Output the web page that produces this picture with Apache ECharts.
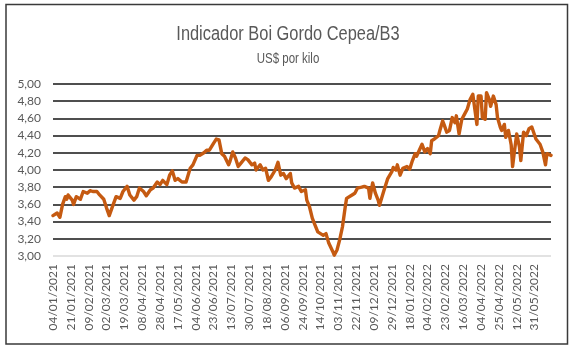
<!DOCTYPE html>
<html>
<head>
<meta charset="utf-8">
<title>Indicador Boi Gordo Cepea/B3</title>
<script src="https://cdn.jsdelivr.net/npm/echarts@6/dist/echarts.min.js"></script>
<style>
    html, body { margin: 0; padding: 0; background: #fff; }
    #chart { width: 575px; height: 348px; }
</style>
</head>
<body>
<div id="chart"></div>
<script>
'use strict';

// x tick labels, one every 13 trading days
var tickLabels = [
    '04/01/2021', '21/01/2021', '09/02/2021', '02/03/2021', '19/03/2021', '08/04/2021', '28/04/2021',
    '17/05/2021', '04/06/2021', '23/06/2021', '13/07/2021', '30/07/2021', '18/08/2021', '06/09/2021',
    '24/09/2021', '14/10/2021', '03/11/2021', '22/11/2021', '09/12/2021', '29/12/2021', '18/01/2022',
    '04/02/2022', '23/02/2022', '16/03/2022', '04/04/2022', '25/04/2022', '12/05/2022', '31/05/2022'
];
var tickStep = 13;
var lastDay = 363;

// trading day index (0 = 04/01/2021) of each sampled point
var dayIndex = [
    0, 3, 5, 7, 9, 10, 11, 14, 15, 17, 20, 22, 25, 27, 29, 32, 34, 37, 39, 41, 43, 44, 46, 49,
    51, 54, 56, 59, 61, 63, 66, 68, 71, 73, 76, 78, 80, 83, 85, 87, 89, 91, 94, 97, 100, 102,
    105, 107, 110, 112,
    114, 117, 119, 121, 123, 125, 128, 129, 131, 133, 135, 137, 140, 142, 145, 147, 148, 151,
    153, 155, 157, 159, 162, 164, 166, 168, 170, 173, 174, 176, 179, 181, 184, 185, 187, 189,
    191, 193, 195, 197, 199, 201, 202, 204, 205, 207, 209, 211, 213, 214, 218, 220, 222, 225,
    227, 230, 231, 233, 235, 237, 238, 241,
    244, 247, 248, 250, 251, 253, 255, 258, 260, 262, 264, 265, 267, 269, 271, 273, 275, 276,
    278, 281, 282, 284, 285, 287, 289, 291, 293, 294, 296, 298, 300, 302, 304, 306, 307, 309,
    310, 312, 313, 315, 316, 318, 319, 321, 323, 324, 326, 327, 329, 330, 332, 334, 335, 336,
    338, 340, 341, 343, 345, 347, 349, 350, 352, 353, 355, 357, 359, 360, 361, 363
];

// US$ per kilo at those days
var price = [
    3.47, 3.50, 3.45, 3.60, 3.69, 3.66, 3.71, 3.65, 3.60, 3.69, 3.66, 3.75, 3.73, 3.76, 3.75, 3.75,
    3.71, 3.66, 3.56, 3.47, 3.56, 3.54, 3.69, 3.67, 3.75, 3.81, 3.71, 3.65, 3.69, 3.79, 3.75, 3.70,
    3.77, 3.79, 3.86, 3.83, 3.88, 3.83, 3.94, 3.99, 3.88, 3.90, 3.86, 3.86, 4.02, 4.06, 4.17, 4.17,
    4.20, 4.23,
    4.23, 4.31, 4.36, 4.35, 4.19, 4.16, 4.06, 4.10, 4.21, 4.14, 4.04, 4.08, 4.14, 4.12, 4.06, 4.08,
    4.00, 4.06, 4.00, 4.02, 3.88, 3.92, 4.00, 4.09, 3.94, 3.96, 3.90, 3.96, 3.85, 3.79, 3.81, 3.75,
    3.77, 3.65, 3.57, 3.44, 3.36, 3.28, 3.26, 3.24, 3.26, 3.15, 3.13, 3.05, 3.01, 3.07, 3.19, 3.34,
    3.57, 3.67, 3.71, 3.73, 3.79, 3.80, 3.81, 3.79, 3.67, 3.85, 3.73, 3.65, 3.59, 3.75,
    3.90, 3.98, 4.03, 4.00, 4.06, 3.94, 4.02, 4.04, 4.01, 4.11, 4.19, 4.16, 4.23, 4.30, 4.21, 4.25,
    4.19, 4.34, 4.36, 4.40, 4.46, 4.57, 4.53, 4.44, 4.46, 4.61, 4.55, 4.63, 4.42, 4.59, 4.65, 4.71,
    4.82, 4.88, 4.86, 4.53, 4.86, 4.86, 4.61, 4.59, 4.90, 4.82, 4.74, 4.86, 4.76, 4.61, 4.50, 4.46,
    4.53, 4.38, 4.46, 4.29, 4.04, 4.17, 4.42, 4.27, 4.11, 4.44, 4.40, 4.48, 4.50, 4.51, 4.36, 4.34,
    4.30, 4.21, 4.06, 4.19, 4.21, 4.17
];

var titleText = 'Indicador Boi Gordo Cepea/B3';
var subtitleText = 'US$ por kilo';

(function (echarts) {

    var Chart = {
        element: null,
        instance: null,

        init: function () {
            this.instance = echarts.init(this.element, null, {renderer: 'canvas'});
            this.instance.setOption(this.buildOption());
        },

        buildSeriesData: function () {
            return dayIndex.map(function (day, i) {
                return [day, price[i]];
            });
        },

        // y split lines: first one (3,00) is the light axis, the rest black
        splitColors: function () {
            var colors = ['#d9d9d9'];
            for (var v = 3.2; v <= 5.001; v += 0.2) colors.push('#141414');
            return colors;
        },

        // narrow-looking heading: regular sans squeezed horizontally
        headingText: function (text, y, size) {
            return {
                type: 'text',
                x: 288,
                y: y,
                scaleX: 0.82,
                silent: true,
                style: {
                    text: text,
                    fontFamily: 'Liberation Sans',
                    fontSize: size,
                    fill: '#595959',
                    align: 'center',
                    verticalAlign: 'top'
                }
            };
        },

        buildOption: function () {
            var labelStyle = {
                fontFamily: 'Lato',
                fontSize: 12,
                color: '#595959'
            };

            return {
                animation: false,
                backgroundColor: '#fff',
                graphic: [{
                    type: 'rect',
                    shape: {x: 6, y: 4.5, width: 561.5, height: 339.5},
                    style: {fill: null, stroke: '#3a3a3a', lineWidth: 1.5},
                    silent: true
                },
                    this.headingText(titleText, 24, 20),
                    this.headingText(subtitleText, 52, 14)
                ],
                grid: {
                    left: 53,
                    right: 24,
                    top: 84,
                    bottom: 92
                },
                xAxis: {
                    type: 'value',
                    min: 0,
                    max: lastDay,
                    interval: tickStep,
                    axisLine: {show: false},
                    axisTick: {show: false},
                    splitLine: {show: false},
                    axisLabel: Object.assign({
                        rotate: 90,
                        margin: 8,
                        showMaxLabel: false,
                        formatter: function (value) {
                            var k = value / tickStep;
                            return k === Math.round(k) && tickLabels[k] ? tickLabels[k] : '';
                        }
                    }, labelStyle)
                },
                yAxis: {
                    type: 'value',
                    min: 3,
                    max: 5,
                    interval: 0.2,
                    axisLine: {show: false},
                    axisTick: {show: false},
                    splitLine: {
                        show: true,
                        lineStyle: {color: this.splitColors(), width: 1.5}
                    },
                    axisLabel: Object.assign({
                        margin: 12,
                        formatter: function (value) {
                            return value.toFixed(2).replace('.', ',');
                        }
                    }, labelStyle)
                },
                series: [{
                    type: 'line',
                    data: this.buildSeriesData(),
                    showSymbol: false,
                    smooth: false,
                    lineStyle: {color: '#c55a11', width: 3.4, join: 'round', cap: 'round'},
                    z: 3
                }]
            };
        }
    };

    Chart.element = document.getElementById('chart');
    Chart.init();

})(echarts);
</script>
</body>
</html>
